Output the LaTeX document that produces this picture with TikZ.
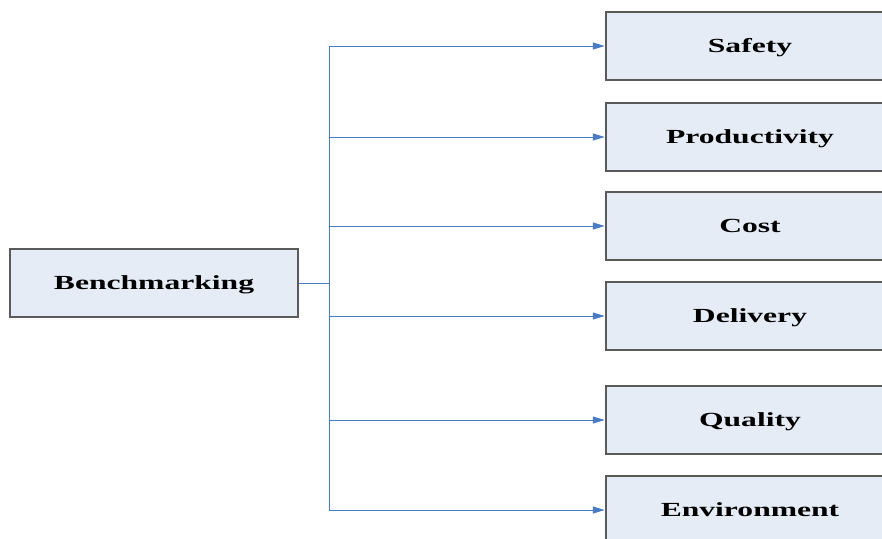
\documentclass[tikz,border=0pt]{standalone}
\usepackage{fontspec}
\setmainfont{Liberation Serif}
\usetikzlibrary{arrows.meta}
\definecolor{boxfill}{HTML}{E6ECF6}
\definecolor{boxline}{HTML}{5A5A5A}
\definecolor{linkblue}{HTML}{4A7CC6}
\tikzset{
  x=1pt, y=-1pt,
  catbox/.style={draw=boxline, line width=1.3pt, fill=boxfill, minimum width=288pt, minimum height=68pt, inner sep=0pt, text height=13pt, text depth=0pt, font=\fontsize{20}{24}\selectfont\bfseries},
  link/.style={draw=linkblue, line width=1pt},
  linkarrow/.style={link, -{Triangle[length=12pt,width=7pt]}, shorten >=0.6pt}
}
\newcommand{\wide}[1]{\scalebox{1.58}[1]{#1}}
\begin{document}
\begin{tikzpicture}
\useasboundingbox (0,0) rectangle (882,538);
\clip (0,0) rectangle (882,538);
\fill[white] (0,0) rectangle (882,538);
\node[catbox] (bench) at (154,283) {\wide{Benchmarking}};
\node[catbox] (safety) at (750,46) {\wide{Safety}};
\node[catbox] (prod) at (750,137) {\wide{Productivity}};
\node[catbox] (cost) at (750,226) {\wide{Cost}};
\node[catbox] (deliv) at (750,316) {\wide{Delivery}};
\node[catbox] (qual) at (750,420) {\wide{Quality}};
\node[catbox] (env) at (750,510) {\wide{Environment}};
\coordinate (hub) at (329,283);
\coordinate (top) at (329,46);
\coordinate (bot) at (329,510);
\draw[link] (bench.east |- hub) -- (hub);
\draw[link] (top) -- (bot);
\foreach \n in {safety,prod,cost,deliv,qual,env}{
  \draw[linkarrow] (hub |- \n.west) -- (\n.west);
}
\end{tikzpicture}
\end{document}
